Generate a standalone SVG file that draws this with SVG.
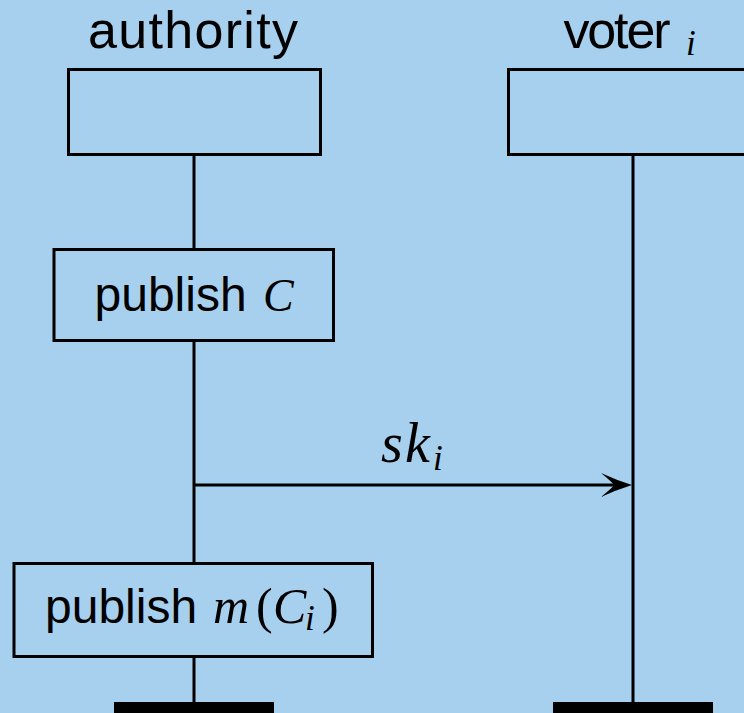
<svg xmlns="http://www.w3.org/2000/svg" width="744" height="713" viewBox="0 0 744 713">
<style>
.box{fill:none;stroke:#000;stroke-width:3}
.life{stroke:#000;stroke-width:3;fill:none}
.bar{fill:#000}
.sans{font-family:"Liberation Sans",Arial,sans-serif;fill:#000}
.math{font-family:"Liberation Serif","Times New Roman",serif;font-style:italic;fill:#000}
</style>
<defs>
<marker id="arr" viewBox="-32 -13 33 26" refX="-14" refY="0" markerWidth="33" markerHeight="26" markerUnits="userSpaceOnUse" orient="auto">
<path d="M0,0 Q-16,-5 -31,-12 Q-20,-3 -18,0 Q-20,3 -31,12 Q-16,5 0,0 Z" fill="#000"/>
</marker>
</defs>
<rect x="0" y="0" width="744" height="713" fill="#a7d0ee"/>
<g id="connectors">
<line class="life" x1="194" y1="155" x2="194" y2="249"/>
<line class="life" x1="194" y1="341" x2="194" y2="563"/>
<line class="life" x1="194" y1="657" x2="194" y2="703"/>
<line class="life" x1="633" y1="155" x2="633" y2="703"/>
<line class="life" x1="194" y1="485" x2="618" y2="485" marker-end="url(#arr)"/>
<text class="math" font-size="56" y="462"><tspan x="381">s</tspan><tspan x="405">k</tspan><tspan x="433" y="470" font-size="35">i</tspan></text>
</g>
<g id="authority">
<text class="sans" x="88" y="48" font-size="52" textLength="210">authority</text>
<rect class="box" x="68.5" y="69.5" width="252" height="85"/>
</g>
<g id="voter">
<text class="sans" x="563.5" y="47.5" font-size="52" textLength="107">voter</text>
<text class="math" x="686" y="55" font-size="35">i</text>
<rect class="box" x="508.5" y="69.5" width="250" height="85"/>
</g>
<g id="publish-c">
<rect class="box" x="54" y="249.5" width="279.5" height="91"/>
<text class="sans" x="94.5" y="310.5" font-size="48">publish</text>
<text class="math" x="263" y="310.5" font-size="46">C</text>
</g>
<g id="publish-m">
<rect class="box" x="14" y="563.5" width="358.5" height="93"/>
<text class="sans" x="45" y="623" font-size="48">publish</text>
<text class="math" y="623" font-size="50"><tspan x="213">m</tspan><tspan x="256" font-style="normal">(</tspan><tspan x="273">C</tspan><tspan x="305" y="630" font-size="35">i</tspan><tspan x="322" y="623" font-style="normal">)</tspan></text>
</g>
<g id="authority-end"><rect class="bar" x="114" y="702" width="160" height="11"/></g>
<g id="voter-end"><rect class="bar" x="553" y="702" width="160" height="11"/></g>
</svg>
